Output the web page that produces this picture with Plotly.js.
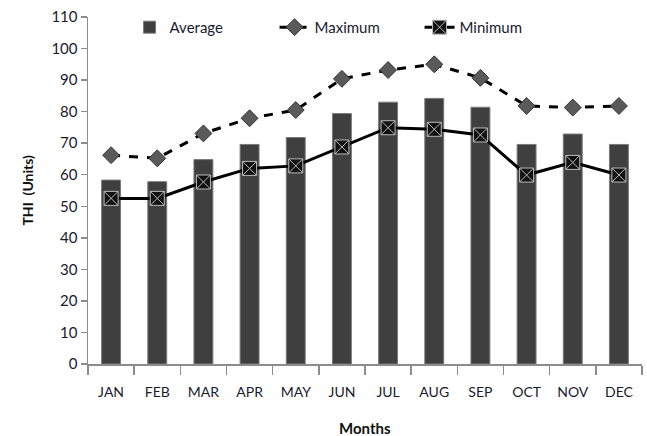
<!DOCTYPE html>
<html>
<head>
<meta charset="utf-8">
<script src="https://cdn.plot.ly/plotly-3.0.1.min.js"></script>
<style>html,body{margin:0;padding:0;background:#fff}#chart{width:647px;height:436px}</style>
</head>
<body>
<div id="chart"></div>
<script>
const months = ["JAN","FEB","MAR","APR","MAY","JUN","JUL","AUG","SEP","OCT","NOV","DEC"];
const averageTHI = [58.3, 57.8, 64.8, 69.6, 71.8, 79.4, 83.0, 84.2, 81.4, 69.6, 72.9, 69.6];
const maximumTHI = [66.2, 65.2, 73.1, 77.9, 80.5, 90.4, 93.2, 95.0, 90.7, 81.8, 81.3, 81.8];
const minimumTHI = [52.5, 52.5, 57.7, 62.0, 62.8, 68.8, 74.9, 74.4, 72.6, 59.9, 63.9, 59.9];
const yTicks = [0,10,20,30,40,50,60,70,80,90,100,110];

const font = "Lato, Open Sans, Liberation Sans, sans-serif";
const traces = [
  {type:"bar", name:"Average", x:months, y:averageTHI,
   marker:{color:"#3f3f3f", line:{color:"#7a7a7a", width:1}}},
  {type:"scatter", mode:"lines+markers", name:"Maximum", x:months, y:maximumTHI,
   line:{color:"#000", width:3, dash:"dash"},
   marker:{symbol:"diamond", size:13, color:"#5a5a5a", line:{color:"#333", width:1}}},
  {type:"scatter", mode:"lines+markers", name:"Minimum", x:months, y:minimumTHI,
   line:{color:"#000", width:3},
   marker:{symbol:"square-x", size:14, color:"#111", line:{color:"#bbb", width:1}}}
];
const layout = {
  width:647, height:436,
  margin:{l:88, r:5, t:17, b:72, autoexpand:false},
  paper_bgcolor:"#fff", plot_bgcolor:"#fff",
  font:{family:font, size:14, color:"#1a1a2e"},
  bargap:0.59,
  showlegend:true,
  legend:{orientation:"h", x:0.075, y:0.97, xanchor:"left", yanchor:"middle",
          font:{size:15, color:"#1a1a2e"}, entrywidth:100, entrywidthmode:"pixels",
          bgcolor:"rgba(0,0,0,0)"},
  xaxis:{type:"category", range:[-0.5, 11.5], tickvals:months, ticktext:months,
         showline:true, linecolor:"#8c8c8c", linewidth:1.5,
         ticks:"outside", tickson:"boundaries", ticklen:9, tickcolor:"#8c8c8c", tickwidth:1.5,
         ticklabelstandoff:15, tickfont:{size:14}, automargin:false,
         showgrid:false, zeroline:false, fixedrange:true},
  yaxis:{range:[0,110], tickvals:yTicks, ticktext:yTicks.map(String),
         showline:true, linecolor:"#8c8c8c", linewidth:1.5,
         ticks:"outside", ticklen:6, tickcolor:"#8c8c8c", tickwidth:1.5,
         tickfont:{size:15}, automargin:false,
         showgrid:false, zeroline:false, fixedrange:true},
  annotations:[
    {text:"<b>Months</b>", xref:"paper", yref:"paper", x:0.5, y:-0.185,
     xanchor:"center", yanchor:"middle", showarrow:false, font:{size:15, color:"#111"}},
    {text:"<b>THI  (Units)</b>", xref:"paper", yref:"paper", x:-0.11, y:0.5,
     xanchor:"center", yanchor:"middle", textangle:-90, showarrow:false, font:{size:14, color:"#111"}}
  ]
};
Plotly.newPlot("chart", traces, layout, {staticPlot:true, displayModeBar:false});
</script>
</body>
</html>
